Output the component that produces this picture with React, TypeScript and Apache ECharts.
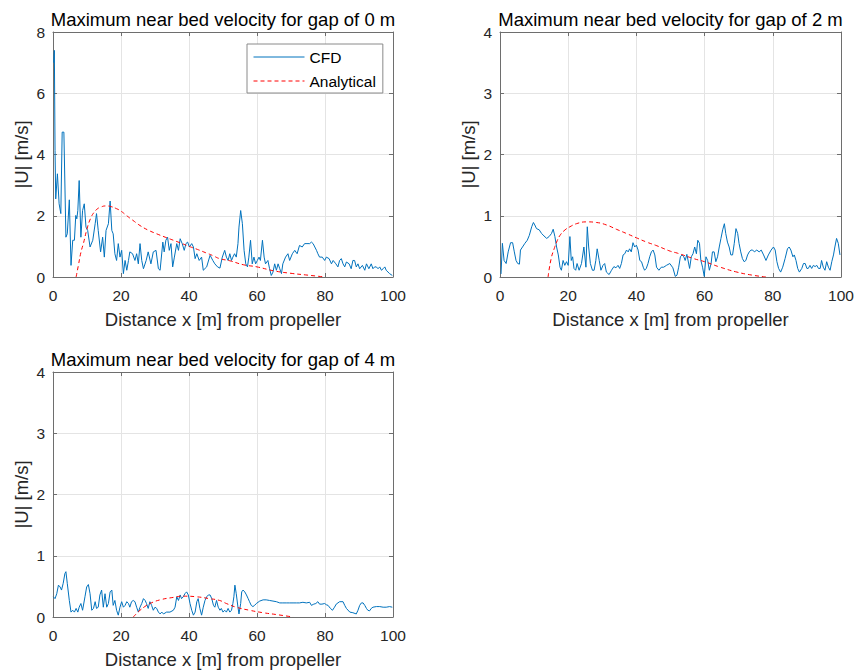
import React, { useEffect, useRef } from "react";
import * as echarts from "echarts";

// ---------- data ----------
const titles = [
  "Maximum near bed velocity for gap of 0 m",
  "Maximum near bed velocity for gap of 2 m",
  "Maximum near bed velocity for gap of 4 m",
];
const xAxisName = "Distance x [m] from propeller";
const yAxisName = "|U| [m/s]";
const yMaxes = [8, 4, 4];
const yIntervals = [2, 1, 1];

const cfdGap0: number[][] = [
  [0.2, 7.0], [0.4, 7.4], [0.6, 4.13], [0.8, 2.55], [1.3, 3.37], [1.8, 2.39], [2.3, 2.07], [2.7, 4.73],
  [3.2, 4.73], [3.8, 1.3], [4.2, 1.41], [4.8, 2.52], [5.3, 0.38], [5.8, 1.2], [6.3, 1.2], [6.7, 2.01],
  [7.0, 1.9], [7.3, 2.17], [7.7, 3.15], [8.2, 1.3], [8.7, 2.17], [9.2, 2.39], [9.7, 1.63], [10.2, 1.52],
  [10.9, 0.98], [11.7, 1.2], [12.4, 1.74], [12.8, 2.07], [13.3, 1.52], [14.0, 0.82], [14.6, 1.3], [15.1, 0.65],
  [15.6, 1.52], [16.3, 1.74], [16.8, 2.48], [17.3, 1.52], [17.7, 1.41], [18.2, 0.76], [18.7, 0.54], [19.2, 1.09],
  [19.7, 0.65], [20.2, 0.87], [20.7, 0.11], [21.2, 0.54], [21.7, 0.22], [22.2, 0.54], [22.6, 0.82], [23.4, 0.76],
  [24.1, 0.54], [24.6, 0.76], [25.1, 0.43], [25.6, 1.09], [26.1, 0.54], [26.6, 0.27], [27.4, 0.54], [28.0, 0.82],
  [28.8, 0.43], [29.5, 0.82], [30.3, 0.87], [31.0, 0.27], [31.5, 0.22], [32.3, 1.14], [32.7, 0.82], [33.2, 1.2],
  [33.7, 1.3], [34.2, 0.87], [34.7, 1.09], [35.2, 0.33], [35.7, 0.65], [36.4, 1.09], [36.9, 0.87], [37.4, 1.25],
  [38.0, 1.09], [38.6, 0.87], [39.1, 1.09], [39.6, 1.14], [40.1, 0.98], [40.8, 1.09], [41.3, 0.98], [41.8, 0.6],
  [42.3, 0.76], [43.0, 0.54], [43.7, 0.65], [44.2, 0.22], [45.2, 0.33], [46.2, 0.71], [47.0, 0.54], [47.6, 0.43],
  [48.4, 0.33], [49.1, 0.29], [49.8, 0.65], [50.5, 0.87], [51.0, 0.65], [51.5, 0.54], [52.0, 0.76], [52.5, 0.54],
  [52.9, 0.65], [53.4, 0.76], [53.9, 0.65], [54.4, 1.09], [54.7, 1.63], [55.2, 2.17], [55.7, 1.74], [56.2, 0.87],
  [56.7, 0.43], [57.2, 0.33], [57.6, 0.65], [58.1, 1.2], [58.6, 0.43], [59.1, 0.65], [59.6, 0.43], [60.1, 0.54],
  [60.6, 0.65], [61.0, 0.54], [61.6, 1.2], [62.1, 0.65], [62.5, 0.43], [63.2, 0.54], [63.7, 0.27], [64.2, 0.05],
  [64.7, 0.16], [65.2, 0.43], [65.7, 0.22], [66.2, 0.43], [66.7, 0.27], [67.2, 0.11], [67.6, 0.43], [68.4, 0.65],
  [69.1, 0.76], [69.6, 0.54], [70.4, 0.76], [71.1, 0.87], [71.8, 0.76], [72.5, 1.03], [73.3, 0.98], [74.0, 1.09],
  [74.7, 1.09], [75.5, 1.09], [76.0, 1.14], [76.5, 1.09], [77.0, 0.98], [77.5, 0.87], [77.9, 0.76], [78.4, 0.65],
  [79.2, 0.65], [79.9, 0.54], [80.4, 0.65], [81.2, 0.6], [81.9, 0.43], [82.4, 0.54], [83.2, 0.43], [83.8, 0.33],
  [84.3, 0.54], [84.8, 0.6], [85.3, 0.43], [85.8, 0.33], [86.3, 0.49], [87.1, 0.43], [87.7, 0.27], [88.2, 0.54],
  [88.7, 0.54], [89.2, 0.33], [89.7, 0.43], [90.2, 0.27], [91.0, 0.38], [91.7, 0.22], [92.2, 0.43], [92.9, 0.27],
  [93.6, 0.43], [94.1, 0.27], [94.6, 0.33], [95.1, 0.33], [95.6, 0.27], [96.1, 0.33], [96.6, 0.22], [97.1, 0.27],
  [97.6, 0.33], [98.0, 0.22], [99.0, 0.11], [99.8, 0.05],
];

const analyticalGap0: number[][] = [
  [6.8, 0], [7.5, 0.4], [8.2, 0.8], [9, 1.12], [10, 1.57], [11, 1.9], [12, 2.1], [13, 2.22], [14, 2.28],
  [15.5, 2.32], [17, 2.3], [18.7, 2.23], [20, 2.15], [21.7, 2.0], [23.5, 1.85], [25.6, 1.68], [28, 1.53],
  [30.5, 1.41], [33, 1.3], [35.4, 1.2], [38, 1.09], [40, 1.0], [42.5, 0.9], [45.2, 0.78], [47, 0.7], [49, 0.6],
  [52, 0.53], [56, 0.4], [60, 0.33], [65, 0.2], [70, 0.12], [75, 0.06], [80, 0],
];

const cfdGap2: number[][] = [
  [0.3, 0.05], [0.7, 0.55], [1.2, 0.27], [1.8, 0.22], [2.4, 0.41], [3.1, 0.56], [3.7, 0.56], [4.2, 0.41],
  [4.7, 0.27], [5.2, 0.22], [5.7, 0.21], [6.0, 0.44], [6.6, 0.49], [7.3, 0.55], [8.0, 0.6], [8.6, 0.68],
  [9.3, 0.82], [9.8, 0.89], [10.2, 0.85], [10.7, 0.79], [11.5, 0.77], [12.2, 0.71], [12.9, 0.67], [13.7, 0.63],
  [14.4, 0.66], [15.1, 0.71], [15.6, 0.78], [16.1, 0.66], [16.6, 0.49], [17.1, 0.36], [17.6, 0.16], [18.0, 0.11],
  [18.5, 0.27], [19.0, 0.19], [19.5, 0.25], [20.0, 0.19], [20.5, 0.66], [20.9, 0.27], [21.3, 0.33], [21.7, 0.14],
  [22.2, 0.11], [22.6, 0.22], [23.2, 0.11], [23.9, 0.22], [24.6, 0.49], [25.2, 0.16], [25.6, 0.82], [26.0, 0.49],
  [26.5, 0.22], [27.1, 0.11], [27.6, 0.11], [28.1, 0.27], [28.5, 0.46], [29.1, 0.27], [29.6, 0.11], [30.2, 0.19],
  [30.7, 0.22], [31.2, 0.08], [32.0, 0.04], [32.7, 0.11], [33.4, 0.17], [34.0, 0.15], [34.6, 0.19], [35.1, 0.14],
  [35.6, 0.22], [36.1, 0.36], [36.6, 0.38], [37.1, 0.44], [37.6, 0.41], [38.0, 0.46], [38.5, 0.41], [39.0, 0.56],
  [39.5, 0.49], [40.0, 0.52], [40.5, 0.44], [41.0, 0.27], [41.5, 0.25], [42.0, 0.16], [42.4, 0.11], [42.9, 0.14],
  [43.4, 0.22], [43.9, 0.33], [44.4, 0.41], [44.9, 0.44], [45.4, 0.36], [45.9, 0.16], [46.6, 0.11], [47.3, 0.16],
  [48.0, 0.16], [48.8, 0.19], [49.8, 0.22], [50.7, 0.15], [51.4, 0.01], [51.9, 0.03], [52.4, 0.16], [52.9, 0.33],
  [53.4, 0.36], [53.9, 0.33], [54.3, 0.27], [54.8, 0.37], [55.6, 0.14], [56.1, 0.33], [56.6, 0.38], [57.1, 0.49],
  [57.6, 0.38], [58.0, 0.6], [58.5, 0.55], [58.9, 0.27], [59.4, 0.16], [59.9, 0.01], [60.4, 0.33], [60.9, 0.27],
  [61.4, 0.11], [61.9, 0.22], [62.3, 0.41], [62.8, 0.41], [63.3, 0.25], [63.8, 0.33], [64.3, 0.49], [64.8, 0.63],
  [65.3, 0.77], [65.8, 0.87], [66.2, 0.71], [66.7, 0.57], [67.2, 0.49], [67.7, 0.36], [68.2, 0.36], [68.7, 0.55],
  [69.2, 0.79], [69.7, 0.71], [70.1, 0.55], [70.6, 0.41], [71.1, 0.3], [71.6, 0.25], [72.1, 0.27], [72.6, 0.36],
  [73.1, 0.41], [73.6, 0.44], [74.1, 0.44], [74.6, 0.41], [75.3, 0.44], [76.0, 0.41], [76.6, 0.44], [77.3, 0.36],
  [78.0, 0.27], [78.7, 0.36], [79.5, 0.44], [80.2, 0.49], [80.7, 0.44], [81.2, 0.25], [81.7, 0.14], [82.3, 0.08],
  [82.9, 0.16], [83.6, 0.3], [84.3, 0.46], [84.8, 0.49], [85.3, 0.44], [85.9, 0.33], [86.3, 0.36], [86.8, 0.27],
  [87.3, 0.14], [87.8, 0.08], [88.5, 0.14], [89.0, 0.22], [89.5, 0.22], [90.0, 0.14], [90.4, 0.14], [90.9, 0.19],
  [91.4, 0.14], [91.9, 0.19], [92.4, 0.17], [92.9, 0.19], [93.4, 0.14], [93.9, 0.14], [94.3, 0.27], [94.8, 0.16],
  [95.3, 0.11], [95.8, 0.25], [96.3, 0.16], [96.8, 0.11], [97.3, 0.25], [97.8, 0.36], [98.2, 0.49], [98.7, 0.63],
  [99.2, 0.55], [99.7, 0.36],
];

const analyticalGap2: number[][] = [
  [14.1, 0], [15, 0.3], [16, 0.48], [16.6, 0.57], [17.6, 0.68], [19.1, 0.77], [20.5, 0.82], [22.4, 0.87],
  [25.4, 0.9], [28.3, 0.89], [31.2, 0.85], [34.1, 0.78], [37.1, 0.71], [40, 0.64], [43, 0.57], [46, 0.51],
  [50, 0.42], [52, 0.39], [56.8, 0.3], [60, 0.25], [64.6, 0.16], [69.5, 0.08], [74, 0.03], [78, 0],
];

const cfdGap4: number[][] = [
  [0.1, 0.33], [0.6, 0.3], [1.1, 0.38], [1.6, 0.52], [2.1, 0.49], [2.5, 0.44], [3.0, 0.55], [3.5, 0.71],
  [3.8, 0.74], [4.2, 0.55], [4.8, 0.27], [5.3, 0.08], [5.8, 0.11], [6.3, 0.08], [6.8, 0.14], [7.3, 0.08],
  [7.7, 0.16], [8.2, 0.22], [8.7, 0.11], [9.4, 0.33], [9.9, 0.49], [10.4, 0.53], [10.9, 0.38], [11.4, 0.11],
  [11.9, 0.14], [12.4, 0.25], [12.8, 0.14], [13.3, 0.16], [13.8, 0.36], [14.3, 0.44], [14.8, 0.16], [15.3, 0.38],
  [15.8, 0.16], [16.3, 0.22], [16.8, 0.41], [17.3, 0.44], [17.7, 0.19], [18.2, 0.27], [18.7, 0.11], [19.2, 0.03],
  [19.7, 0.16], [20.2, 0.25], [20.7, 0.16], [21.2, 0.19], [21.7, 0.25], [22.2, 0.22], [22.6, 0.16], [23.1, 0.25],
  [23.6, 0.27], [24.1, 0.25], [24.6, 0.16], [25.1, 0.08], [25.6, 0.16], [26.1, 0.22], [26.6, 0.3], [27.1, 0.27],
  [27.5, 0.22], [28.0, 0.14], [28.5, 0.25], [29.0, 0.19], [29.5, 0.11], [30.0, 0.16], [30.5, 0.14], [31.0, 0.08],
  [31.5, 0.05], [32.0, 0.08], [32.5, 0.05], [33.4, 0.08], [34.4, 0.08], [35.4, 0.11], [35.9, 0.16], [36.4, 0.33],
  [36.9, 0.27], [37.4, 0.36], [37.8, 0.3], [38.3, 0.33], [38.8, 0.38], [39.3, 0.41], [39.8, 0.36], [40.3, 0.22],
  [40.8, 0.11], [41.3, 0.03], [41.8, 0.08], [42.3, 0.25], [42.7, 0.3], [43.2, 0.14], [43.7, 0.03], [44.2, 0.16],
  [44.7, 0.27], [45.2, 0.33], [45.7, 0.36], [46.2, 0.36], [46.7, 0.3], [47.2, 0.19], [47.6, 0.16], [48.1, 0.27],
  [48.6, 0.16], [49.1, 0.11], [49.5, 0.14], [50.0, 0.08], [50.5, 0.11], [51.0, 0.08], [51.5, 0.14], [52.0, 0.08],
  [52.5, 0.11], [52.9, 0.22], [53.2, 0.33], [53.5, 0.52], [53.9, 0.38], [54.4, 0.16], [54.7, 0.05], [55.2, 0.22],
  [55.5, 0.41], [55.9, 0.44], [56.4, 0.41], [56.9, 0.36], [57.4, 0.3], [57.8, 0.25], [58.3, 0.19], [58.8, 0.17],
  [59.3, 0.19], [59.8, 0.22], [60.8, 0.26], [61.8, 0.28], [62.7, 0.28], [63.7, 0.27], [64.7, 0.26], [65.7, 0.25],
  [66.7, 0.23], [67.6, 0.23], [68.6, 0.23], [69.6, 0.23], [70.6, 0.23], [71.6, 0.23], [72.5, 0.23], [73.5, 0.24],
  [74.5, 0.23], [75.5, 0.24], [76.0, 0.19], [76.7, 0.21], [77.3, 0.22], [77.9, 0.25], [78.4, 0.21], [79.1, 0.21],
  [79.9, 0.22], [80.4, 0.2], [80.9, 0.19], [81.6, 0.14], [82.2, 0.11], [82.8, 0.16], [83.3, 0.21], [84.3, 0.25],
  [85.3, 0.25], [85.8, 0.19], [86.3, 0.14], [87.3, 0.08], [88.2, 0.07], [89.2, 0.05], [89.7, 0.11], [90.2, 0.19],
  [90.7, 0.23], [91.2, 0.23], [91.7, 0.19], [92.2, 0.14], [92.6, 0.11], [93.1, 0.1], [93.6, 0.14], [94.1, 0.16],
  [95.1, 0.17], [96.1, 0.17], [97.1, 0.16], [98.0, 0.16], [99.0, 0.17], [99.8, 0.16],
];

const analyticalGap4: number[][] = [
  [23.6, 0], [25, 0.08], [25.6, 0.11], [27, 0.17], [28.5, 0.22], [31.5, 0.28], [35.4, 0.32], [38.3, 0.34],
  [42.2, 0.33], [46, 0.3], [49, 0.27], [51, 0.22], [53.9, 0.16], [57.8, 0.11], [61.8, 0.07], [65.7, 0.04],
  [70.6, 0],
];

const cfdSeries = [cfdGap0, cfdGap2, cfdGap4];
const analyticalSeries = [analyticalGap0, analyticalGap2, analyticalGap4];

// ---------- layout / style ----------
const FONT = "'Liberation Sans', Arial, Helvetica, sans-serif";
const AXIS_COLOR = "#6e6e6e";
const GRID_COLOR = "#e4e4e4";
const TEXT_COLOR = "#262626";
const CFD_COLOR = "#0072BD";
const ANA_COLOR = "#FF0000";

const grids = [
  { left: 53, top: 32, width: 340, height: 245 },
  { left: 500, top: 32, width: 341, height: 245 },
  { left: 53, top: 372, width: 340, height: 245 },
];

export default function App() {
  const ref = useRef<HTMLDivElement>(null);

  useEffect(() => {
    document.body.style.margin = "0";
    if (!ref.current) return;
    const chart = echarts.init(ref.current, undefined, { renderer: "svg" });

    const xAxes: any[] = [];
    const yAxes: any[] = [];
    const series: any[] = [];
    const graphics: any[] = [];

    grids.forEach((g, i) => {
      xAxes.push({
        type: "value",
        gridIndex: i,
        position: "bottom",
        min: 0,
        max: 100,
        interval: 20,
        name: xAxisName,
        nameLocation: "middle",
        nameGap: 33,
        nameTextStyle: { fontFamily: FONT, fontSize: 18.5, color: TEXT_COLOR },
        axisLine: { show: true, onZero: false, lineStyle: { color: AXIS_COLOR, width: 1 } },
        axisTick: { show: true, inside: true, length: 4, lineStyle: { color: AXIS_COLOR } },
        axisLabel: { show: true, margin: 10, fontFamily: FONT, fontSize: 15.5, color: TEXT_COLOR },
        splitLine: { show: true, lineStyle: { color: GRID_COLOR, width: 1 } },
      });
      xAxes.push({
        type: "value",
        gridIndex: i,
        position: "top",
        min: 0,
        max: 100,
        interval: 20,
        axisLine: { show: true, onZero: false, lineStyle: { color: AXIS_COLOR, width: 1 } },
        axisTick: { show: true, inside: true, length: 4, lineStyle: { color: AXIS_COLOR } },
        axisLabel: { show: false },
        splitLine: { show: false },
      });
      yAxes.push({
        type: "value",
        gridIndex: i,
        position: "left",
        min: 0,
        max: yMaxes[i],
        interval: yIntervals[i],
        name: yAxisName,
        nameLocation: "middle",
        nameGap: 22,
        nameRotate: 90,
        nameTextStyle: { fontFamily: FONT, fontSize: 18.5, color: TEXT_COLOR },
        axisLine: { show: true, onZero: false, lineStyle: { color: AXIS_COLOR, width: 1 } },
        axisTick: { show: true, inside: true, length: 4, lineStyle: { color: AXIS_COLOR } },
        axisLabel: { show: true, margin: 8, fontFamily: FONT, fontSize: 15.5, color: TEXT_COLOR },
        splitLine: { show: true, lineStyle: { color: GRID_COLOR, width: 1 } },
      });
      yAxes.push({
        type: "value",
        gridIndex: i,
        position: "right",
        min: 0,
        max: yMaxes[i],
        interval: yIntervals[i],
        axisLine: { show: true, onZero: false, lineStyle: { color: AXIS_COLOR, width: 1 } },
        axisTick: { show: true, inside: true, length: 4, lineStyle: { color: AXIS_COLOR } },
        axisLabel: { show: false },
        splitLine: { show: false },
      });

      series.push({
        name: "CFD",
        type: "line",
        xAxisIndex: i * 2,
        yAxisIndex: i * 2,
        data: cfdSeries[i],
        showSymbol: false,
        symbol: "none",
        smooth: false,
        lineStyle: { color: CFD_COLOR, width: 1 },
        itemStyle: { color: CFD_COLOR },
        z: 3,
      });
      series.push({
        name: "Analytical",
        type: "line",
        xAxisIndex: i * 2,
        yAxisIndex: i * 2,
        data: analyticalSeries[i],
        showSymbol: false,
        symbol: "none",
        smooth: true,
        lineStyle: { color: ANA_COLOR, width: 1, type: [4, 3] },
        itemStyle: { color: ANA_COLOR },
        z: 4,
      });

      graphics.push({
        type: "text",
        x: g.left + g.width / 2,
        y: g.top - 12.5,
        style: {
          text: titles[i],
          font: `18.5px ${FONT}`,
          fill: "#000",
          textAlign: "center",
          textVerticalAlign: "middle",
        },
      });
    });

    chart.setOption({
      animation: false,
      backgroundColor: "#ffffff",
      grid: grids.map((g) => ({ ...g, containLabel: false })),
      xAxis: xAxes,
      yAxis: yAxes,
      series,
      graphic: graphics,
      legend: {
        data: ["CFD", "Analytical"],
        orient: "vertical",
        left: 247,
        top: 44,
        padding: [5, 7, 4, 6],
        itemWidth: 51,
        itemHeight: 14,
        itemGap: 8,
        backgroundColor: "#ffffff",
        borderColor: "#8a8a8a",
        borderWidth: 1,
        borderRadius: 0,
        itemStyle: { color: "transparent", borderColor: "transparent", borderWidth: 0, opacity: 0 },
        lineStyle: { width: 1 },
        textStyle: { fontFamily: FONT, fontSize: 15.5, color: "#000" },
        selectedMode: false,
      },
    });

    return () => chart.dispose();
  }, []);

  return <div ref={ref} style={{ width: 857, height: 672 }} />;
}
